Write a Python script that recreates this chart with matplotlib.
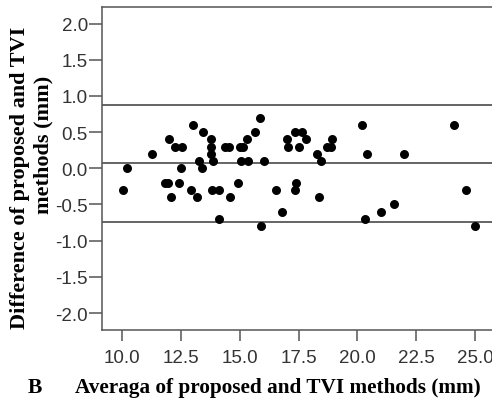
import matplotlib
matplotlib.use("Agg")
import matplotlib.pyplot as plt

# Bland-Altman data: average (mm) and difference (mm)
average = [10.02, 10.19, 11.28, 11.82, 11.93, 11.99, 12.23, 12.54, 12.07, 12.40,
           12.48, 12.99, 12.92, 13.45, 13.19, 13.25, 13.40, 13.79, 13.77, 13.77,
           13.84, 13.83, 14.13, 14.13, 14.38, 14.52, 14.58, 14.91, 15.01, 15.15,
           15.29, 15.05, 15.35, 15.63, 15.86, 16.03, 15.89, 16.54, 16.78, 16.99,
           17.03, 17.35, 17.64, 17.81, 17.53, 17.39, 17.33, 18.38, 18.28, 18.44,
           18.69, 18.89, 18.92, 20.19, 20.39, 22.00, 24.10, 24.62, 24.99, 20.34,
           20.99, 21.54]
difference = [-0.3, 0.0, 0.2, -0.2, -0.2, 0.4, 0.3, 0.3, -0.4, -0.2,
              0.0, 0.6, -0.3, 0.5, -0.4, 0.1, 0.0, 0.4, 0.3, 0.2,
              0.1, -0.3, -0.3, -0.7, 0.3, 0.3, -0.4, -0.2, 0.3, 0.3,
              0.4, 0.1, 0.1, 0.5, 0.7, 0.1, -0.8, -0.3, -0.6, 0.4,
              0.3, 0.5, 0.5, 0.4, 0.3, -0.2, -0.3, -0.4, 0.2, 0.1,
              0.3, 0.3, 0.4, 0.6, 0.2, 0.2, 0.6, -0.3, -0.8, -0.7,
              -0.6, -0.5]
mean_line = 0.07
upper_loa = 0.87
lower_loa = -0.74

x_ticks = [10.0, 12.5, 15.0, 17.5, 20.0, 22.5, 25.0]
y_ticks = [2.0, 1.5, 1.0, 0.5, 0.0, -0.5, -1.0, -1.5, -2.0]

W, H = 492, 402
fig = plt.figure(figsize=(W / 100, H / 100), dpi=100)
ax = fig.add_axes([102.3 / W, (H - 330.5) / H, 1.0 - 102.3 / W + 0.01, 322.5 / H])

ax.scatter(average, difference, s=42, color='black', zorder=3, linewidths=0)
for v in (upper_loa, mean_line, lower_loa):
    ax.axhline(v, color='#4a4a4a', lw=1.2, zorder=2)

ax.set_xlim(9.15, 25.725 + 0.01 * (25.725 - 9.15) / (1 - 102.3 / W))
ax.set_ylim(-2.227, 2.228)
ax.set_xticks(x_ticks)
ax.set_xticklabels([f"{t:.1f}" for t in x_ticks])
ax.set_yticks(y_ticks)
ax.set_yticklabels([f"{t:.1f}" for t in y_ticks])

for sp in ('left', 'bottom', 'top'):
    ax.spines[sp].set_color('#555555')
    ax.spines[sp].set_linewidth(1.1)
ax.spines['right'].set_visible(False)

ax.tick_params(axis='y', length=9.4, width=1.1, color='#555555', pad=1,
               labelsize=13.5, labelcolor='#333333')
ax.tick_params(axis='x', length=8, width=1.1, color='#555555', pad=6,
               labelsize=13.5, labelcolor='#333333')
for lab in ax.get_xticklabels() + ax.get_yticklabels():
    lab.set_fontfamily('Liberation Sans')

serif = 'Liberation Serif'
fig.text(20 / W, (H - 178) / H, 'Difference of proposed and TVI', rotation=90,
         ha='center', va='center', fontsize=16, fontweight='bold', family=serif)
fig.text(43 / W, (H - 145) / H, 'methods (mm)', rotation=90,
         ha='center', va='center', fontsize=16, fontweight='bold', family=serif)
fig.text(28 / W, (H - 393) / H, 'B', ha='left', va='baseline',
         fontsize=15.5, fontweight='bold', family=serif)
fig.text(75 / W, (H - 393) / H, 'Averaga of proposed and TVI methods (mm)',
         ha='left', va='baseline', fontsize=15.3, fontweight='bold', family=serif)

fig.savefig('out.png', dpi=100)
